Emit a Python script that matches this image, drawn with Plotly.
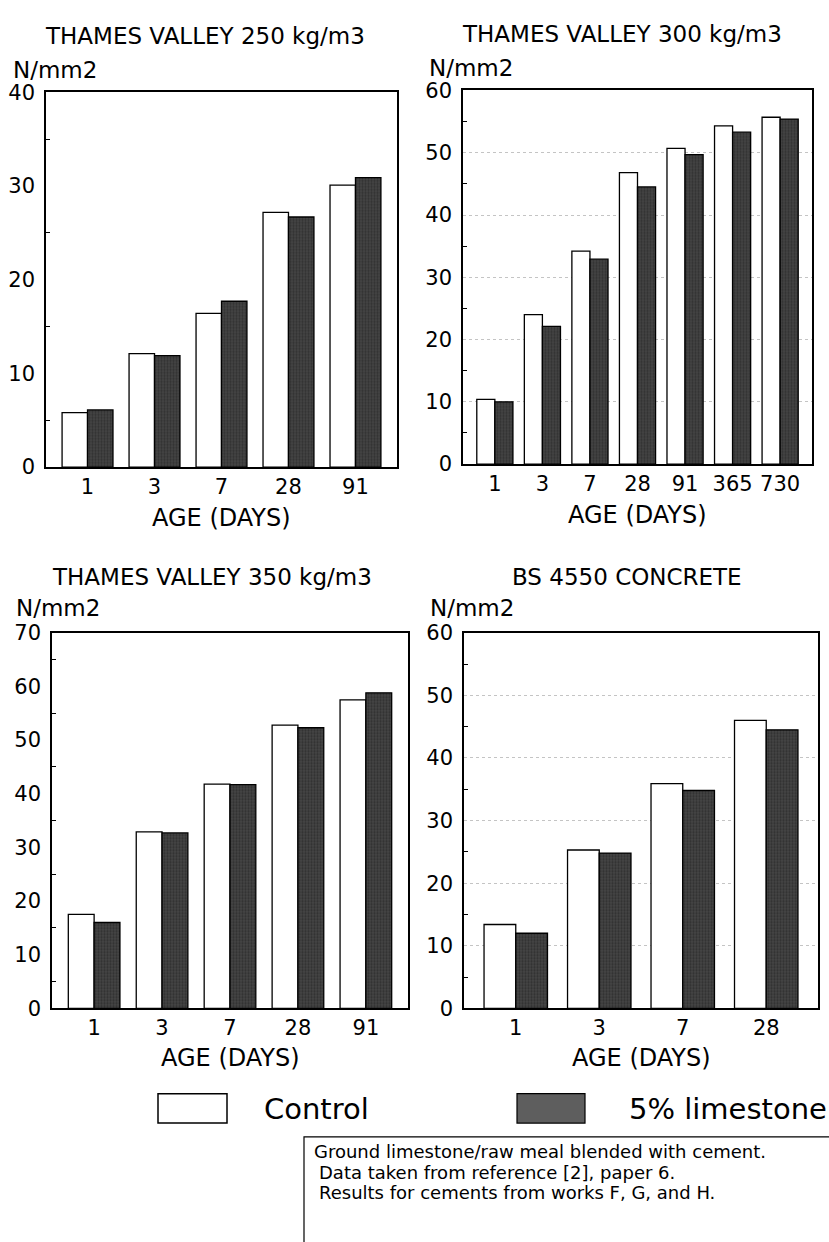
import plotly.graph_objects as go

W, H = 829, 1242

# ---------------- data ----------------
series_names = ["Control", "5% limestone"]

ages_1 = ["1", "3", "7", "28", "91"]
control_1 = [5.8, 12.1, 16.4, 27.2, 30.1]
lime_1 = [6.1, 11.9, 17.7, 26.7, 30.9]

ages_2 = ["1", "3", "7", "28", "91", "365", "730"]
control_2 = [10.4, 24.0, 34.2, 46.8, 50.7, 54.3, 55.7]
lime_2 = [10.0, 22.1, 32.9, 44.5, 49.7, 53.3, 55.4]

ages_3 = ["1", "3", "7", "28", "91"]
control_3 = [17.5, 32.9, 41.8, 52.8, 57.5]
lime_3 = [16.0, 32.7, 41.7, 52.3, 58.8]

ages_4 = ["1", "3", "7", "28"]
control_4 = [13.4, 25.3, 35.9, 46.0]
lime_4 = [12.0, 24.8, 34.8, 44.5]

titles = ["THAMES VALLEY 250 kg/m3", "THAMES VALLEY 300 kg/m3",
          "THAMES VALLEY 350 kg/m3", "BS 4550 CONCRETE"]
y_max = [40, 60, 70, 60]
y_unit = "N/mm2"
x_title = "AGE (DAYS)"
note_lines = ["Ground limestone/raw meal blended with cement.",
              "Data taken from reference [2], paper 6.",
              "Results for cements from works F, G, and H."]

# ---------------- layout geometry (pixels) ----------------
boxes = [(46, 397, 82, 464), (463, 812, 80, 461),
         (52, 408, 633, 1016), (464, 818, 633, 1016)]
title_pos = [(205, 24.5), (622, 22.5), (212, 576), (627, 576)]
unit_pos = [(11, 59), (427, 57), (14, 608), (428, 608)]
xtitle_y = [516, 513, 1067, 1067]
grid_on = [False, True, False, True]

FONT = "DejaVu Sans"


def px(x):
    return x / W


def py(y):
    return 1 - y / H


data_sets = [(ages_1, control_1, lime_1), (ages_2, control_2, lime_2),
             (ages_3, control_3, lime_3), (ages_4, control_4, lime_4)]

fig = go.Figure()
annotations = []
shapes = []

LIME_PATTERN = dict(shape=".", bgcolor="#464646", fgcolor="#1c1c1c",
                    size=3, solidity=0.45)

for i, (ages, ctrl, lime) in enumerate(data_sets):
    n = i + 1
    xa = "x" if n == 1 else f"x{n}"
    ya = "y" if n == 1 else f"y{n}"
    fig.add_trace(go.Bar(
        x=ages, y=ctrl, name=series_names[0], xaxis=xa, yaxis=ya,
        marker=dict(color="white", line=dict(color="black", width=1.3)),
        offsetgroup="a", showlegend=False))
    fig.add_trace(go.Bar(
        x=ages, y=lime, name=series_names[1], xaxis=xa, yaxis=ya,
        marker=dict(color="#3e3e3e", line=dict(color="black", width=1.3),
                    pattern=LIME_PATTERN),
        offsetgroup="b", showlegend=False))

    x0, x1, y0, y1 = boxes[i]
    k = len(ages)
    pad = 0.62 if k != 7 else 0.67
    xkey = "xaxis" if n == 1 else f"xaxis{n}"
    ykey = "yaxis" if n == 1 else f"yaxis{n}"
    fig.update_layout(**{
        xkey: dict(domain=[px(x0), px(x1)], anchor=ya, type="category",
                   range=[-pad, k - 1 + pad], showline=True, mirror=True,
                   linecolor="black", linewidth=1.5, ticks="", showgrid=False,
                   tickfont=dict(family=FONT, size=21, color="black"),
                   ticklabelstandoff=0, fixedrange=True),
        ykey: dict(domain=[py(y1), py(y0)], anchor=xa, range=[0, y_max[i]],
                   dtick=10, showline=True, mirror=True, linecolor="black",
                   linewidth=1.5, ticks="", zeroline=False,
                   showgrid=grid_on[i], gridcolor="#c4c4c4", griddash="dot",
                   gridwidth=1,
                   minor=dict(dtick=5, ticks="inside", ticklen=4,
                              tickcolor="black", showgrid=False),
                   tickfont=dict(family=FONT, size=21, color="black"),
                   ticklabelstandoff=5, fixedrange=True),
    })

    tx, ty = title_pos[i]
    annotations.append(dict(x=px(tx), y=py(ty), xref="paper", yref="paper",
                            text=titles[i], showarrow=False, xanchor="center",
                            yanchor="middle",
                            font=dict(family=FONT, size=23, color="black")))
    ux, uy = unit_pos[i]
    annotations.append(dict(x=px(ux), y=py(uy), xref="paper", yref="paper",
                            text=y_unit, showarrow=False, xanchor="left",
                            yanchor="middle",
                            font=dict(family=FONT, size=23, color="black")))
    annotations.append(dict(x=px((x0 + x1) / 2), y=py(xtitle_y[i]),
                            xref="paper", yref="paper", text=x_title,
                            showarrow=False, xanchor="center", yanchor="middle",
                            font=dict(family=FONT, size=24, color="black")))

# ---------------- legend (drawn manually) ----------------
shapes.append(dict(type="rect", xref="paper", yref="paper",
                   x0=px(158), x1=px(227), y0=py(1133), y1=py(1103),
                   line=dict(color="black", width=1.5), fillcolor="white"))
shapes.append(dict(type="rect", xref="paper", yref="paper",
                   x0=px(517), x1=px(585), y0=py(1133), y1=py(1103),
                   line=dict(color="black", width=1.2), fillcolor="#5e5e5e"))
annotations.append(dict(x=px(262), y=py(1119), xref="paper", yref="paper",
                        text=series_names[0], showarrow=False, xanchor="left",
                        yanchor="middle",
                        font=dict(family=FONT, size=29, color="black")))
annotations.append(dict(x=px(627), y=py(1119), xref="paper", yref="paper",
                        text=series_names[1], showarrow=False, xanchor="left",
                        yanchor="middle",
                        font=dict(family=FONT, size=29, color="black")))

# ---------------- note box ----------------
shapes.append(dict(type="rect", xref="paper", yref="paper",
                   x0=px(304), x1=px(900), y0=py(1300), y1=py(1147),
                   line=dict(color="black", width=1.2)))
note_x = [312, 317, 317]
note_y = [1162, 1183, 1204]
for t, nx, ny in zip(note_lines, note_x, note_y):
    annotations.append(dict(x=px(nx), y=py(ny), xref="paper", yref="paper",
                            text=t, showarrow=False, xanchor="left",
                            yanchor="middle",
                            font=dict(family=FONT, size=18, color="black")))

fig.update_layout(
    width=W, height=H, margin=dict(l=0, r=0, t=0, b=0),
    paper_bgcolor="white", plot_bgcolor="white",
    barmode="group", bargap=0.24, bargroupgap=0,
    showlegend=False, annotations=annotations, shapes=shapes,
    font=dict(family=FONT, color="black"),
)

fig.write_html("out.html", config={"displayModeBar": False})
